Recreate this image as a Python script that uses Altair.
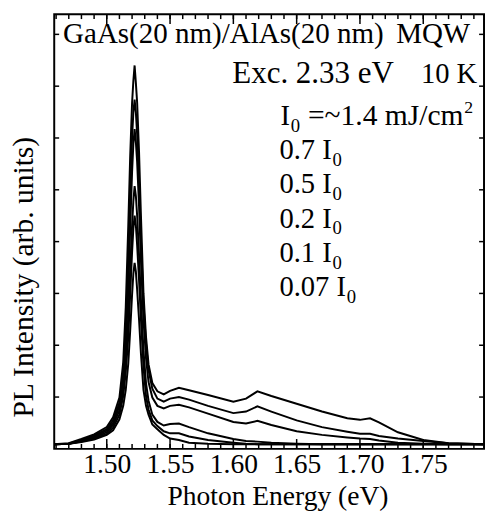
import altair as alt
import pandas as pd

FONT = "Liberation Serif"

# Photon energy grid (eV)
energy = [1.4585, 1.470, 1.480, 1.490, 1.500, 1.505, 1.510, 1.513, 1.515, 1.517,
          1.5185, 1.520, 1.521, 1.522, 1.523, 1.524, 1.5255, 1.527, 1.529, 1.531,
          1.533, 1.536, 1.540, 1.545, 1.550, 1.557, 1.565, 1.580, 1.600, 1.610,
          1.619, 1.630, 1.650, 1.670, 1.690, 1.700, 1.708, 1.715, 1.730, 1.750,
          1.770, 1.798]

# PL intensity (arb. units) for each excitation fluence
pl_100 = [0.09, 0.11, 0.19, 0.28, 0.42, 0.61, 0.99, 1.67, 2.73, 4.31,
          5.64, 6.68, 7.10, 7.40, 7.06, 6.68, 5.73, 4.50, 3.00, 2.16,
          1.63, 1.27, 1.11, 1.05, 1.12, 1.18, 1.13, 1.04, 0.91, 0.97,
          1.11, 1.02, 0.87, 0.72, 0.59, 0.56, 0.59, 0.51, 0.32, 0.17,
          0.11, 0.09]
pl_070 = [0.09, 0.10, 0.17, 0.26, 0.38, 0.55, 0.89, 1.46, 2.32, 3.55,
          4.88, 6.02, 6.49, 6.74, 6.49, 6.07, 5.16, 4.02, 2.79, 2.03,
          1.52, 1.16, 0.97, 0.91, 0.97, 1.00, 0.95, 0.83, 0.69, 0.72,
          0.82, 0.72, 0.55, 0.42, 0.33, 0.29, 0.29, 0.25, 0.20, 0.15,
          0.11, 0.09]
pl_050 = [0.09, 0.10, 0.16, 0.24, 0.35, 0.50, 0.82, 1.31, 2.03, 3.07,
          4.25, 5.35, 5.88, 6.17, 5.92, 5.54, 4.69, 3.64, 2.50, 1.75,
          1.29, 0.99, 0.83, 0.78, 0.83, 0.85, 0.80, 0.68, 0.52, 0.49,
          0.54, 0.46, 0.34, 0.27, 0.22, 0.20, 0.19, 0.16, 0.12, 0.10,
          0.09, 0.09]
pl_020 = [0.09, 0.10, 0.15, 0.22, 0.32, 0.46, 0.74, 1.14, 1.71, 2.54,
          3.45, 4.31, 4.78, 5.07, 4.88, 4.50, 3.74, 2.88, 1.90, 1.27,
          0.93, 0.66, 0.52, 0.45, 0.48, 0.49, 0.42, 0.30, 0.19, 0.15,
          0.14, 0.12, 0.10, 0.09, 0.09, 0.09, 0.09, 0.09, 0.09, 0.09,
          0.09, 0.09]
pl_010 = [0.09, 0.10, 0.14, 0.20, 0.29, 0.41, 0.66, 1.02, 1.48, 2.16,
          2.98, 3.80, 4.25, 4.50, 4.31, 3.93, 3.26, 2.50, 1.59, 1.02,
          0.76, 0.55, 0.44, 0.34, 0.30, 0.30, 0.24, 0.17, 0.12, 0.10,
          0.09, 0.09, 0.09, 0.09, 0.09, 0.09, 0.09, 0.09, 0.09, 0.09,
          0.09, 0.09]
pl_007 = [0.09, 0.10, 0.13, 0.18, 0.27, 0.36, 0.57, 0.83, 1.14, 1.65,
          2.28, 2.98, 3.38, 3.59, 3.42, 3.07, 2.50, 1.84, 1.14, 0.83,
          0.66, 0.47, 0.38, 0.27, 0.20, 0.17, 0.12, 0.10, 0.09, 0.09,
          0.09, 0.09, 0.09, 0.09, 0.09, 0.09, 0.09, 0.09, 0.09, 0.09,
          0.09, 0.09]

series_names = ["I0", "0.7 I0", "0.5 I0", "0.2 I0", "0.1 I0", "0.07 I0"]
series_vals = [pl_100, pl_070, pl_050, pl_020, pl_010, pl_007]

# axis tick values
x_labels = [1.50, 1.55, 1.60, 1.65, 1.70, 1.75]
x_minor = [1.46, 1.47, 1.48, 1.49, 1.50, 1.51, 1.52, 1.53, 1.54, 1.55, 1.56,
           1.57, 1.58, 1.59, 1.60, 1.61, 1.62, 1.63, 1.64, 1.65, 1.66, 1.67,
           1.68, 1.69, 1.70, 1.71, 1.72, 1.73, 1.74, 1.75, 1.76, 1.77, 1.78,
           1.79]
y_ticks = [1, 2, 3, 4, 5, 6, 7, 8]

rows = []
for name, vals in zip(series_names, series_vals):
    for e, v in zip(energy, vals):
        rows.append({"energy": e, "intensity": v, "series": name})
df = pd.DataFrame(rows)

W, H = 437, 442
OX, OY = 55, 10
xscale = alt.Scale(domain=[1.4585, 1.798], nice=False, zero=False)
yscale = alt.Scale(domain=[0, 8.39], nice=False, zero=False)

x_axis = alt.Axis(values=x_labels, format=".2f", labelFont=FONT,
                  labelFontSize=28, labelColor="black",
                  labelBaseline="alphabetic", labelPadding=24,
                  labelFlush=False, labelOverlap=False,
                  ticks=False, tickSize=0, domain=False, grid=False,
                  title="Photon Energy (eV)", titleFont=FONT,
                  titleFontSize=28, titleFontWeight="normal",
                  titleColor="black", titleX=227, titleY=57,
                  titleAlign="center", titleBaseline="alphabetic")
y_axis = alt.Axis(labels=False, ticks=False, tickSize=0, domain=False,
                  grid=False, title="PL Intensity (arb. units)",
                  titleFont=FONT, titleFontSize=30,
                  titleFontWeight="normal", titleColor="black",
                  titleX=-22, titleY=267, titleAngle=270,
                  titleAlign="center", titleBaseline="alphabetic")

lines = alt.Chart(df).mark_line(color="black", strokeWidth=2).encode(
    x=alt.X("energy:Q", scale=xscale, axis=x_axis, title="Photon Energy (eV)"),
    y=alt.Y("intensity:Q", scale=yscale, axis=y_axis,
            title="PL Intensity (arb. units)"),
    detail="series:N",
)

minor_df = pd.DataFrame({"e": x_minor})
major_df = pd.DataFrame({"e": x_labels})
ytick_df = pd.DataFrame({"v": y_ticks})


def xticks(data, y0, y1):
    return alt.Chart(data).mark_rule(color="black", strokeWidth=1.5).encode(
        x=alt.X("e:Q", scale=xscale, axis=x_axis, title="Photon Energy (eV)"),
        y=alt.value(y0), y2=alt.value(y1))


def yticks(x0, x1):
    return alt.Chart(ytick_df).mark_rule(color="black", strokeWidth=1.5).encode(
        y=alt.Y("v:Q", scale=yscale, axis=y_axis,
                title="PL Intensity (arb. units)"),
        x=alt.value(x0), x2=alt.value(x1))


tick_layers = [
    xticks(minor_df, H, H - 5), xticks(major_df, H, H - 10),
    xticks(minor_df, 0, 5), xticks(major_df, 0, 10),
    yticks(0, 5), yticks(W, W - 5),
]


def txt(s, x, y, size=29, align="left"):
    return alt.Chart(alt.Data(values=[{}])).mark_text(
        text=s, font=FONT, fontSize=size, align=align,
        baseline="alphabetic", color="black").encode(
        x=alt.value(x - OX), y=alt.value(y - OY))


texts = [
    txt("GaAs(20 nm)/AlAs(20 nm)", 64, 39, size=29.5),
    txt("MQW", 478, 39, size=29.5, align="right"),
    txt("Exc. 2.33 eV", 236, 80, size=31.5),
    txt("10 K", 485, 80, align="right"),
    txt("I", 285, 122.5),
    txt("0", 295.5, 129.5, size=19),
    txt("=~1.4 mJ/cm", 313, 122.5, size=30),
    txt("2", 472, 110, size=18),
]
for lab, base in [("0.7 I", 157), ("0.5 I", 192), ("0.2 I", 227), ("0.1 I", 262)]:
    texts.append(txt(lab, 284, base))
    texts.append(txt("0", 338, base + 7, size=19))
texts.append(txt("0.07 I", 284, 297))
texts.append(txt("0", 352.5, 304, size=19))

chart = alt.layer(lines, *tick_layers, *texts).properties(
    width=W, height=H,
    autosize=alt.AutoSizeParams(type="none"),
    padding={"left": 47, "top": 2, "right": 1, "bottom": 64},
    background="white",
).configure_view(stroke="black", strokeWidth=2)

chart.save("out.html", embed_options={"renderer": "svg", "actions": False})
